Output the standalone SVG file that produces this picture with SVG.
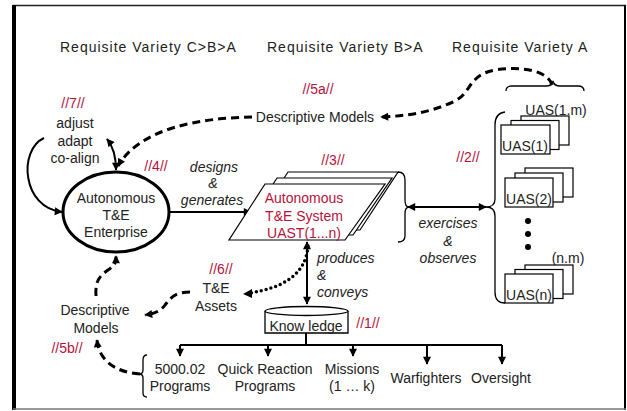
<svg xmlns="http://www.w3.org/2000/svg" width="627" height="411" viewBox="0 0 627 411">
<style>
text{font-family:"Liberation Sans",Arial,sans-serif;font-size:14px;fill:#222;text-anchor:middle}
.hdr{letter-spacing:1px;text-anchor:start}
.red{fill:#b5123c}
.it{font-style:italic}
.ln{fill:none;stroke:#000;stroke-width:2}
.dash{fill:none;stroke:#000;stroke-width:3;stroke-dasharray:8 5}
.dot{fill:none;stroke:#000;stroke-width:3.5;stroke-dasharray:0 5;stroke-linecap:round}
.thin{fill:none;stroke:#000;stroke-width:1.3}
.box{fill:#fff;stroke:#000;stroke-width:1.2}
</style>
<defs>
<marker id="ah" viewBox="0 0 10 10" refX="9" refY="5" markerWidth="9" markerHeight="8" markerUnits="userSpaceOnUse" orient="auto-start-reverse">
<path d="M0,0 L10,5 L0,10 z" fill="#000"/>
</marker>
</defs>
<rect width="627" height="411" fill="#fff"/>
<!-- frame -->
<line x1="13" y1="5.5" x2="626" y2="5.5" stroke="#222" stroke-width="1.5"/>
<line x1="14" y1="5" x2="14" y2="410" stroke="#000" stroke-width="4"/>
<line x1="625" y1="5" x2="625" y2="410" stroke="#000" stroke-width="2"/>
<line x1="13" y1="409" x2="626" y2="409" stroke="#777" stroke-width="1.5"/>

<g id="headers">
<text class="hdr" x="60" y="52">Requisite Variety C&gt;B&gt;A</text>
<text class="hdr" x="267" y="52">Requisite Variety B&gt;A</text>
<text class="hdr" x="452" y="52">Requisite Variety A</text>
</g>

<g id="connectors">
<path class="dash" d="M552,85 C548,70 520,66 495,70 C468,75 472,92 455,101 C430,113 405,116 381,117" marker-end="url(#ah)"/>
<path class="dash" d="M252,117 C200,118 140,128 118,166" marker-end="url(#ah)"/>
<path class="ln" d="M107,139 Q116,150 116,170" marker-start="url(#ah)" marker-end="url(#ah)"/>
<path class="ln" d="M44,138 C18,150 22,208 62,212" marker-end="url(#ah)"/>
<line class="ln" x1="170" y1="212" x2="251" y2="212" marker-end="url(#ah)"/>
<line class="ln" x1="408" y1="207" x2="486" y2="207" marker-start="url(#ah)" marker-end="url(#ah)"/>
<path class="dot" d="M308,246 C306,275 282,288 250,293"/>
<path d="M252,289 L243,294 L252,298 z" fill="#000"/>
<line class="ln" x1="307" y1="242" x2="307" y2="304" marker-start="url(#ah)" marker-end="url(#ah)"/>
<path class="dash" d="M190,292 C174,292 170,299 165,305 C160,312 152,314 145,315" marker-end="url(#ah)"/>
<path class="dash" d="M96,296 C95,280 100,276 108,270 C116,264 116,262 116,256" marker-end="url(#ah)"/>
<path class="dash" d="M140,374 C114,372 99,360 97,340" marker-end="url(#ah)"/>
<!-- tree -->
<line class="ln" x1="306" y1="333" x2="306" y2="345"/>
<line class="ln" x1="180" y1="345" x2="502" y2="345"/>
<line class="ln" x1="180" y1="345" x2="180" y2="356" marker-end="url(#ah)"/>
<line class="ln" x1="268" y1="345" x2="268" y2="356" marker-end="url(#ah)"/>
<line class="ln" x1="353" y1="345" x2="353" y2="356" marker-end="url(#ah)"/>
<line class="ln" x1="427" y1="345" x2="427" y2="364" marker-end="url(#ah)"/>
<line class="ln" x1="502" y1="345" x2="502" y2="364" marker-end="url(#ah)"/>
</g>

<g id="n7">
<text class="red" x="73" y="108">//7//</text>
<text x="75" y="128">adjust</text>
<text x="75" y="146">adapt</text>
<text x="75" y="163">co-align</text>
</g>

<g id="enterprise">
<ellipse cx="116" cy="212" rx="53" ry="40" fill="#fff" stroke="#000" stroke-width="3"/>
<text x="116" y="203">Autonomous</text>
<text x="116" y="220">T&amp;E</text>
<text x="116" y="237">Enterprise</text>
</g>

<g id="n4">
<text class="red" x="156" y="171">//4//</text>
<text class="it" x="214" y="172">designs</text>
<text class="it" x="213" y="188">&amp;</text>
<text class="it" x="212" y="205">generates</text>
</g>

<g id="models-a">
<text class="red" x="318" y="94">//5a//</text>
<text x="315" y="122">Descriptive Models</text>
</g>

<g id="system">
<text class="red" x="333" y="165">//3//</text>
<path class="box" d="M288,172 L398,172 L360,230 L250,230 z"/>
<path class="box" d="M277,178 L392,178 L353,235 L240,235 z"/>
<path class="box" d="M265,184 L385,184 L345,240 L229,240 z"/>
<text class="red" x="304" y="203">Autonomous</text>
<text class="red" x="304" y="221">T&amp;E System</text>
<text class="red" x="304" y="238">UAST(1...n)</text>
<path class="thin" d="M398,172 Q405,172 405,180 L405,200 Q405,207 409,207 Q405,207 405,214 L405,236 Q405,242 398,242"/>
</g>

<g id="n2">
<text class="red" x="468" y="162">//2//</text>
<text class="it" x="448" y="228">exercises</text>
<text class="it" x="448" y="246">&amp;</text>
<text class="it" x="448" y="263">observes</text>
</g>

<g id="uas">
<path class="thin" d="M506,91 Q506,86 512,86 L546,86 Q552,86 553,81 Q554,86 560,86 L578,86 Q584,86 584,91"/>
<text x="556" y="115">UAS(1.m)</text>
<path class="thin" d="M505,112 Q495,113 495,125 L495,199 Q495,207 486,207 Q495,207 495,216 L495,292 Q495,303 505,303"/>
<rect class="box" x="521" y="116" width="48" height="29"/>
<rect class="box" x="511" y="120.5" width="48" height="29"/>
<rect class="box" x="501" y="125" width="49" height="29"/>
<text x="525" y="151">UAS(1)</text>
<rect class="box" x="525" y="168" width="48" height="29"/>
<rect class="box" x="515" y="173" width="48" height="29"/>
<rect class="box" x="505" y="178" width="48" height="29"/>
<text x="529" y="204">UAS(2)</text>
<circle cx="528" cy="221" r="3"/>
<circle cx="528" cy="234" r="3"/>
<circle cx="528" cy="247" r="3"/>
<text x="568" y="263">(n.m)</text>
<rect class="box" x="525" y="265" width="48" height="29"/>
<rect class="box" x="515" y="269.5" width="48" height="29"/>
<rect class="box" x="505" y="274" width="48" height="29"/>
<text x="529" y="300">UAS(n)</text>
</g>

<g id="n6">
<text class="red" x="221" y="274">//6//</text>
<text x="216" y="293">T&amp;E</text>
<text x="216" y="311">Assets</text>
</g>

<g id="produces">
<text class="it" x="317" y="263" style="text-anchor:start">produces</text>
<text class="it" x="317" y="280" style="text-anchor:start">&amp;</text>
<text class="it" x="317" y="297" style="text-anchor:start">conveys</text>
</g>

<g id="knowledge">
<path d="M265,311 L265,333 L348,333 L348,311" fill="#fff" stroke="#000" stroke-width="1.3"/>
<ellipse cx="306.5" cy="311" rx="41.5" ry="4.5" fill="#fff" stroke="#000" stroke-width="1.3"/>
<text x="306" y="331">Know ledge</text>
<text class="red" x="368" y="328">//1//</text>
</g>

<g id="models-b">
<text x="95" y="315">Descriptive</text>
<text x="96" y="333">Models</text>
<text class="red" x="67" y="353">//5b//</text>
</g>

<g id="outputs">
<path class="thin" d="M147,355 Q143,355 143,360 L143,370 Q143,374 139,374 Q143,374 143,378 L143,393 Q143,397 147,397"/>
<text x="180" y="374">5000.02</text>
<text x="180" y="391">Programs</text>
<text x="265" y="374">Quick Reaction</text>
<text x="265" y="391">Programs</text>
<text x="352" y="374">Missions</text>
<text x="352" y="391">(1 … k)</text>
<text x="426" y="383">Warfighters</text>
<text x="501" y="383">Oversight</text>
</g>
</svg>
